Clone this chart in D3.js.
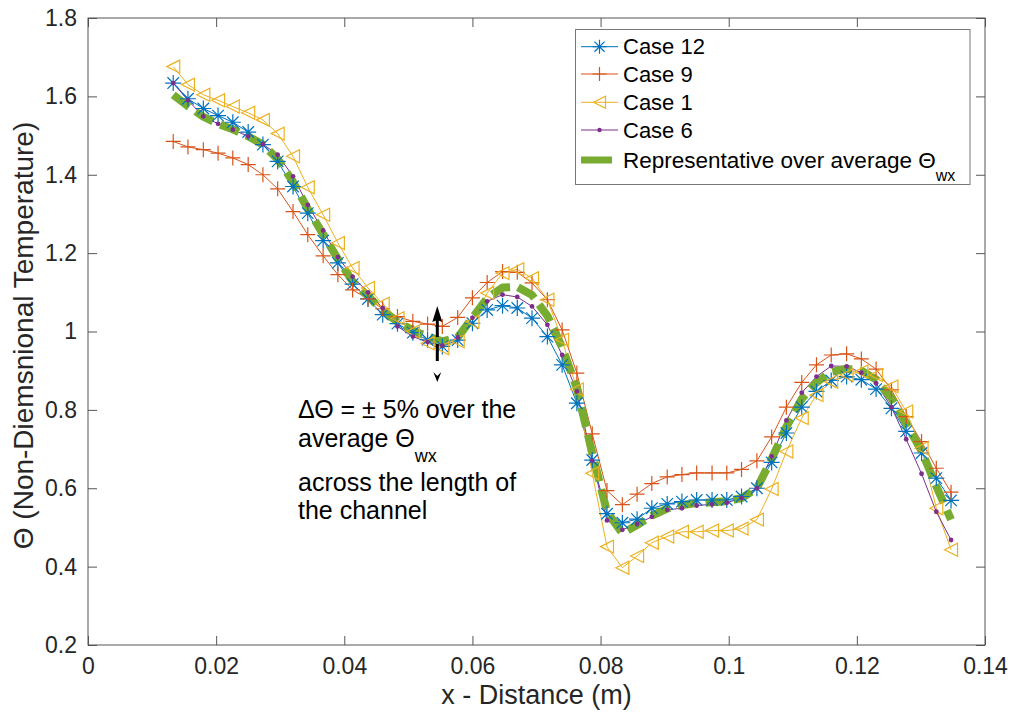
<!DOCTYPE html>
<html>
<head>
<meta charset="utf-8">
<script src="https://cdn.jsdelivr.net/npm/d3@7"></script>
<style>
  html, body { margin: 0; padding: 0; background: #fff; }
  svg { display: block; font-family: "Liberation Sans", Arial, Helvetica, sans-serif; }
</style>
</head>
<body>
<svg id="chart" width="1011" height="721"></svg>
<script>
// Axial position along the channel (m)
const xPos = [0.0133,0.0156,0.0180,0.0203,0.0226,0.0250,0.0273,0.0296,0.0320,0.0343,
  0.0367,0.0390,0.0413,0.0437,0.0460,0.0483,0.0507,0.0530,0.0553,0.0577,
  0.0600,0.0623,0.0647,0.0670,0.0693,0.0717,0.0740,0.0763,0.0787,0.0810,
  0.0834,0.0857,0.0880,0.0904,0.0927,0.0950,0.0974,0.0997,0.1020,0.1044,
  0.1067,0.1090,0.1114,0.1137,0.1160,0.1184,0.1207,0.1230,0.1254,0.1277,
  0.1301,0.1324,0.1347];

// Non-dimensional wall temperature for each case
const case12 = [1.634,1.594,1.569,1.551,1.534,1.509,1.477,1.434,1.370,1.302,
  1.232,1.175,1.121,1.083,1.043,1.020,0.997,0.979,0.962,0.978,
  1.021,1.055,1.066,1.060,1.034,0.987,0.915,0.817,0.672,0.535,
  0.512,0.521,0.549,0.560,0.566,0.570,0.570,0.570,0.579,0.600,
  0.666,0.741,0.807,0.847,0.875,0.885,0.877,0.853,0.804,0.745,
  0.690,0.626,0.569];
const case9 = [1.485,1.471,1.464,1.455,1.443,1.426,1.400,1.364,1.306,1.247,
  1.193,1.145,1.106,1.083,1.058,1.038,1.026,1.019,1.013,1.036,
  1.086,1.125,1.153,1.151,1.124,1.081,1.004,0.894,0.739,0.594,
  0.558,0.585,0.612,0.629,0.635,0.639,0.639,0.639,0.648,0.670,
  0.731,0.807,0.870,0.915,0.940,0.943,0.930,0.904,0.851,0.783,
  0.719,0.651,0.590];
const case1 = [1.676,1.630,1.604,1.590,1.574,1.558,1.540,1.505,1.447,1.368,
  1.298,1.226,1.162,1.111,1.071,1.034,1.000,0.970,0.957,0.975,
  1.025,1.098,1.149,1.159,1.136,1.081,0.979,0.852,0.638,0.451,
  0.397,0.427,0.461,0.477,0.489,0.489,0.492,0.492,0.497,0.520,
  0.598,0.694,0.779,0.838,0.872,0.889,0.898,0.889,0.860,0.796,
  0.702,0.549,0.443];
const case6 = [1.634,1.590,1.549,1.530,1.515,1.498,1.478,1.451,1.396,1.323,
  1.258,1.190,1.140,1.100,1.060,1.013,0.987,0.973,0.964,0.985,
  1.035,1.077,1.094,1.088,1.064,1.017,0.940,0.847,0.670,0.518,
  0.494,0.509,0.527,0.545,0.549,0.556,0.559,0.563,0.575,0.600,
  0.681,0.773,0.844,0.885,0.912,0.911,0.895,0.868,0.807,0.725,
  0.637,0.540,0.468];
// Representative profile over the average wall temperature
const representative = [1.604,1.575,1.548,1.530,1.516,1.498,1.477,1.440,1.382,1.313,
  1.248,1.185,1.128,1.090,1.053,1.025,1.003,0.987,0.975,0.985,
  1.035,1.085,1.112,1.114,1.093,1.040,0.960,0.855,0.690,0.540,
  0.485,0.506,0.530,0.548,0.557,0.562,0.564,0.567,0.575,0.600,
  0.675,0.757,0.828,0.870,0.897,0.905,0.900,0.877,0.830,0.765,
  0.695,0.605,0.520];

const seriesNames = ["Case 12", "Case 9", "Case 1", "Case 6"];
const xTicks = [0, 0.02, 0.04, 0.06, 0.08, 0.1, 0.12, 0.14];
const xTickLabels = ["0", "0.02", "0.04", "0.06", "0.08", "0.1", "0.12", "0.14"];
const yTicks = [0.2, 0.4, 0.6, 0.8, 1.0, 1.2, 1.4, 1.6, 1.8];
const yTickLabels = ["0.2", "0.4", "0.6", "0.8", "1", "1.2", "1.4", "1.6", "1.8"];
const annotationLines = ["across the length of", "the channel"];

// ---- layout ----
const svg = d3.select("#chart");
const L = 88, R = 985, T = 18, B = 645;
const x = d3.scaleLinear().domain([0, 0.14]).range([L, R]);
const y = d3.scaleLinear().domain([0.2, 1.8]).range([B, T]);

const axisColor = "#555";
const textColor = "#262626";
const tickFont = 23;

// axes with inward ticks on all four sides
const gx = svg.append("g").attr("transform", `translate(0,${B})`)
  .call(d3.axisBottom(x).tickValues(xTicks).tickFormat((d, i) => xTickLabels[i])
    .tickSizeInner(-9).tickSizeOuter(0).tickPadding(13));
const gxTop = svg.append("g").attr("transform", `translate(0,${T})`)
  .call(d3.axisTop(x).tickValues(xTicks).tickFormat("").tickSizeInner(-9).tickSizeOuter(0));
const gy = svg.append("g").attr("transform", `translate(${L},0)`)
  .call(d3.axisLeft(y).tickValues(yTicks).tickFormat((d, i) => yTickLabels[i])
    .tickSizeInner(-9).tickSizeOuter(0).tickPadding(11));
const gyR = svg.append("g").attr("transform", `translate(${R},0)`)
  .call(d3.axisRight(y).tickValues(yTicks).tickFormat("").tickSizeInner(-9).tickSizeOuter(0));

[gx, gxTop, gy, gyR].forEach(g => {
  g.select(".domain").remove();
  g.selectAll(".tick line").attr("stroke", axisColor).attr("stroke-width", 1);
  g.selectAll(".tick text").attr("fill", textColor).attr("font-size", tickFont)
    .attr("font-family", "Liberation Sans, Arial, sans-serif");
});
gx.selectAll(".tick text").attr("dy", "0.71em");

svg.append("rect").attr("x", L).attr("y", T).attr("width", R - L).attr("height", B - T)
  .attr("fill", "none").attr("stroke", axisColor).attr("stroke-width", 1);

// axis titles
svg.append("text").attr("x", (L + R) / 2).attr("y", 704).attr("text-anchor", "middle")
  .attr("font-size", 27).attr("fill", textColor).text("x - Distance (m)");
svg.append("text").attr("transform", `translate(33,${(T + B) / 2 + 4}) rotate(-90)`)
  .attr("text-anchor", "middle").attr("font-size", 28).attr("fill", textColor)
  .text("Θ (Non-Diemsnional Temperature)");

// ---- series ----
const colors = ["#0072BD", "#D95319", "#EDB120", "#7E2F8E"];
const green = "#77AC30";
const values = [case12, case9, case1, case6];
const line = d3.line().x(d => x(d[0])).y(d => y(d[1]));
const pts = arr => xPos.map((v, i) => [v, arr[i]]);

const plot = svg.append("g");
values.forEach((arr, k) => {
  plot.append("path").datum(pts(arr)).attr("d", line)
    .attr("fill", "none").attr("stroke", colors[k]).attr("stroke-width", 1);
});

plot.append("path").datum(pts(representative)).attr("d", line)
  .attr("fill", "none").attr("stroke", green).attr("stroke-width", 8)
  .attr("stroke-dasharray", "20,8").attr("stroke-linejoin", "round");

// marker shapes
function starPath(s) {
  const d = s * 0.72;
  return `M${-s},0L${s},0M0,${-s}L0,${s}M${-d},${-d}L${d},${d}M${-d},${d}L${d},${-d}`;
}
function plusPath(s) { return `M${-s},0L${s},0M0,${-s}L0,${s}`; }
function triPath(s) { return `M${-s},0L${s},${-s}L${s},${s}Z`; }

function drawMarkers(g, kind, arr, color) {
  const sel = g.selectAll(null).data(pts(arr)).enter();
  if (kind === "star") {
    sel.append("path").attr("transform", d => `translate(${x(d[0])},${y(d[1])})`)
      .attr("d", starPath(8)).attr("stroke", color).attr("stroke-width", 1.2).attr("fill", "none");
  } else if (kind === "plus") {
    sel.append("path").attr("transform", d => `translate(${x(d[0])},${y(d[1])})`)
      .attr("d", plusPath(7.5)).attr("stroke", color).attr("stroke-width", 1.2).attr("fill", "none");
  } else if (kind === "tri") {
    sel.append("path").attr("transform", d => `translate(${x(d[0])},${y(d[1])})`)
      .attr("d", triPath(6.5)).attr("stroke", color).attr("stroke-width", 1.2).attr("fill", "none");
  } else {
    sel.append("circle").attr("cx", d => x(d[0])).attr("cy", d => y(d[1])).attr("r", 2.4)
      .attr("fill", color);
  }
}
const kinds = ["star", "plus", "tri", "dot"];
values.forEach((arr, k) => drawMarkers(plot.append("g"), kinds[k], arr, colors[k]));

// ---- ±5% band arrow ----
const ax = 437.3;
const arrow = svg.append("g");
arrow.append("line").attr("x1", ax).attr("x2", ax).attr("y1", 320).attr("y2", 366)
  .attr("stroke", "#000").attr("stroke-width", 3).attr("stroke-dasharray", "17,7");
arrow.append("path").attr("d", `M${ax},306L${ax + 5},322L${ax},320L${ax - 5},322Z`)
  .attr("fill", "#000");
arrow.append("path").attr("d", `M${ax - 4},372L${ax},382L${ax + 4},372L${ax},376Z`)
  .attr("fill", "#000");

// annotation text
const ann = svg.append("g").attr("font-size", 25).attr("fill", "#000");
ann.append("text").attr("x", 298).attr("y", 418).text("ΔΘ = ± 5% over the");
const a2 = ann.append("text").attr("x", 298).attr("y", 447);
a2.append("tspan").text("average Θ");
a2.append("tspan").attr("font-size", 18).attr("dy", 15).text("wx");
ann.selectAll(null).data(annotationLines).enter().append("text")
  .attr("x", 298).attr("y", (d, i) => 491 + i * 28).text(d => d);

// ---- legend ----
const lg = svg.append("g");
lg.append("rect").attr("x", 575.5).attr("y", 29.5).attr("width", 394.5).attr("height", 155)
  .attr("fill", "#fff").attr("stroke", "#777").attr("stroke-width", 1);
const rowY = [46.7, 74, 102.3, 130];
seriesNames.forEach((name, k) => {
  const cy = rowY[k];
  lg.append("line").attr("x1", 581).attr("x2", 618).attr("y1", cy).attr("y2", cy)
    .attr("stroke", colors[k]).attr("stroke-width", 1);
  const mg = lg.append("g").attr("transform", `translate(599.5,${cy})`);
  if (kinds[k] === "star") mg.append("path").attr("d", starPath(7)).attr("stroke", colors[k]).attr("stroke-width", 1.2).attr("fill", "none");
  else if (kinds[k] === "plus") mg.append("path").attr("d", plusPath(7)).attr("stroke", colors[k]).attr("stroke-width", 1.2);
  else if (kinds[k] === "tri") mg.append("path").attr("d", triPath(6)).attr("stroke", colors[k]).attr("stroke-width", 1.2).attr("fill", "none");
  else mg.append("circle").attr("r", 2.2).attr("fill", colors[k]);
  lg.append("text").attr("x", 623).attr("y", cy).attr("dy", "0.35em")
    .attr("font-size", 22).attr("fill", "#000").text(name);
});
lg.append("line").attr("x1", 581).attr("x2", 612).attr("y1", 160).attr("y2", 160)
  .attr("stroke", green).attr("stroke-width", 7);
const lt = lg.append("text").attr("x", 623).attr("y", 160).attr("dy", "0.35em")
  .attr("font-size", 22.5).attr("fill", "#000");
lt.append("tspan").text("Representative over average Θ");
lt.append("tspan").attr("font-size", 16).attr("dy", 13).text("wx");
</script>
</body>
</html>
